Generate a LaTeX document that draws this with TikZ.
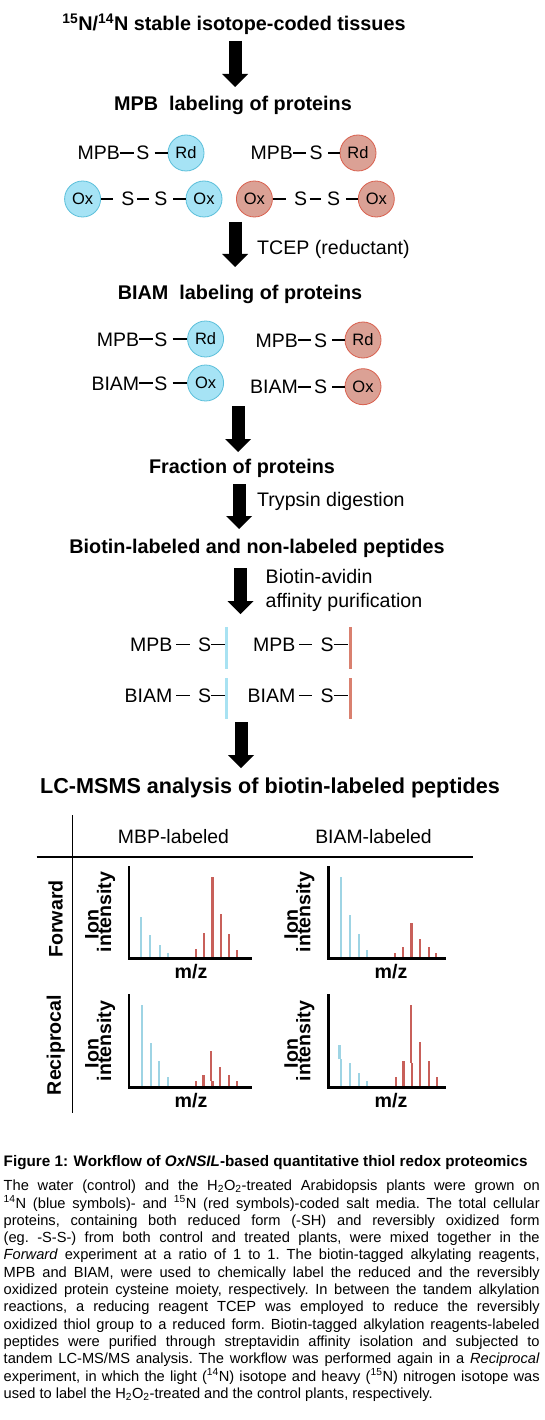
\documentclass[tikz,border=0pt]{standalone}
\usepackage{fontspec}
\setmainfont{Liberation Sans}
\usetikzlibrary{arrows.meta}
\definecolor{cbf}{HTML}{A6E3F5}
\definecolor{cbd}{HTML}{5BBFDA}
\definecolor{crf}{HTML}{DBA195}
\definecolor{crd}{HTML}{D9604E}
\definecolor{barb}{HTML}{9ED4E4}
\definecolor{barr}{HTML}{C8605A}
\definecolor{pepb}{HTML}{A8E2F2}
\definecolor{pepr}{HTML}{D9806F}
\begin{document}
\begin{tikzpicture}[x=1pt,y=-1pt,
  hd/.style={font=\fontsize{19.8}{22}\selectfont\bfseries, inner sep=0pt, anchor=base},
  lab/.style={font=\fontsize{19.6}{22}\selectfont, inner sep=0pt, anchor=base west},
  chem/.style={font=\fontsize{19.5}{22}\selectfont, inner sep=0pt, text height=14pt, text depth=0pt},
  bond/.style={line width=1.7pt},
  bc/.style={circle, minimum size=36pt, inner sep=0pt, fill=cbf, draw=cbd, line width=0.8pt, font=\fontsize{16.5}{18}\selectfont},
  rc/.style={bc, fill=crf, draw=crd},
  pbl/.style={rectangle, minimum width=3pt, minimum height=42pt, inner sep=0pt, fill=pepb},
  prl/.style={pbl, fill=pepr},
  blk/.style={line width=13pt, -{Triangle[width=26pt,length=13pt,line width=0pt]}},
  tline/.style={line width=1.1pt},
  reg/.style={font=\fontsize{19.4}{22}\selectfont, inner sep=0pt},
  bl/.style={font=\fontsize{19.6}{22}\selectfont\bfseries, inner sep=0pt},
  axis/.style={line width=2.7pt, line join=miter},
  bb/.style={line width=2.4pt, barb},
  br/.style={line width=2.4pt, barr},
  captxt/.style={font=\fontsize{14.65}{17.3}\selectfont\frenchspacing, inner sep=0pt, anchor=base west}
]
\useasboundingbox (0,0) rectangle (544,1420);
\fill[white] (0,0) rectangle (544,1420);

% ---- headings
\node[hd] (h1) at (234,31) {\textsuperscript{15}N/\textsuperscript{14}N stable isotope-coded tissues};
\node[hd] (h2) at (233,111) {MPB\ \ labeling of proteins};
\node[hd] (h3) at (240,299) {BIAM\ \ labeling of proteins};
\node[hd] (h4) at (242,473) {Fraction of proteins};
\node[hd] (h5) at (257,553) {Biotin-labeled and non-labeled peptides};
\node[hd, font=\fontsize{21.6}{24}\selectfont\bfseries] (h6) at (270,793) {LC-MSMS analysis of biotin-labeled peptides};

% ---- step labels
\node[lab] (l1) at (257,255) {TCEP (reductant)};
\node[lab] (l2) at (257,506) {Trypsin digestion};
\node[lab] (l3) at (265.5,583) {Biotin-avidin};
\node[lab] (l4) at (265.5,607) {affinity purification};

% ---- block arrows
\coordinate (a1s) at (235,41);   \coordinate (a1e) at (235,87);
\coordinate (a2s) at (235,222);  \coordinate (a2e) at (235,267);
\coordinate (a3s) at (238,406);  \coordinate (a3e) at (238,452);
\coordinate (a4s) at (239,484);  \coordinate (a4e) at (239,529);
\coordinate (a5s) at (240.5,568);\coordinate (a5e) at (240.5,614);
\coordinate (a6s) at (241,722);  \coordinate (a6e) at (241,768);
\draw[blk] (a1s) -- (a1e);
\draw[blk] (a2s) -- (a2e);
\draw[blk] (a3s) -- (a3e);
\draw[blk] (a4s) -- (a4e);
\draw[blk] (a5s) -- (a5e);
\draw[blk] (a6s) -- (a6e);

% ---- MPB labeling row 1
\node[chem, anchor=east] (m1b) at (120,153) {MPB};
\node[chem] (s1b) at (143,153) {S};
\node[bc] (r1b) at (186,153) {Rd};
\draw[bond, shorten >=2pt] (m1b) -- (s1b);
\draw[bond, shorten <=5pt] (s1b) -- (r1b);
\node[chem, anchor=east] (m1r) at (293,153) {MPB};
\node[chem] (s1r) at (316,153) {S};
\node[rc] (r1r) at (358,153) {Rd};
\draw[bond, shorten >=3pt] (m1r) -- (s1r);
\draw[bond, shorten <=5.5pt] (s1r) -- (r1r);
% row 2
\node[bc] (o1b) at (82.6,199) {Ox};
\node[chem] (s2b) at (128,199) {S};
\node[chem] (s3b) at (161,199) {S};
\node[bc] (o2b) at (204,199) {Ox};
\draw[bond, shorten >=8pt] (o1b) -- (s2b);
\draw[bond, shorten <=2.5pt, shorten >=5.5pt] (s2b) -- (s3b);
\draw[bond, shorten <=5.5pt] (s3b) -- (o2b);
\node[rc] (o1r) at (254.4,199) {Ox};
\node[chem] (s2r) at (300.5,199) {S};
\node[chem] (s3r) at (333.6,199) {S};
\node[rc] (o2r) at (376.3,199) {Ox};
\draw[bond, shorten >=8pt] (o1r) -- (s2r);
\draw[bond, shorten <=2.5pt, shorten >=5.5pt] (s2r) -- (s3r);
\draw[bond, shorten <=5.5pt] (s3r) -- (o2r);

% ---- BIAM labeling
\node[chem, anchor=east] (m4b) at (139.4,339) {MPB};
\node[chem] (s4b) at (161,339) {S};
\node[bc] (r4b) at (205.6,339) {Rd};
\draw[bond, shorten >=1pt] (m4b) -- (s4b);
\draw[bond, shorten <=5pt] (s4b) -- (r4b);
\node[chem, anchor=east] (m5b) at (139.4,383) {BIAM};
\node[chem] (s5b) at (161,383) {S};
\node[bc] (o5b) at (205.6,383) {Ox};
\draw[bond, shorten >=1pt] (m5b) -- (s5b);
\draw[bond, shorten <=5pt] (s5b) -- (o5b);
\node[chem, anchor=east] (m4r) at (298,340) {MPB};
\node[chem] (s4r) at (320.5,340) {S};
\node[rc] (r4r) at (363,340) {Rd};
\draw[bond, shorten >=2.5pt] (m4r) -- (s4r);
\draw[bond, shorten <=5pt] (s4r) -- (r4r);
\node[chem, anchor=east] (m5r) at (298,386.7) {BIAM};
\node[chem] (s5r) at (320.5,386.7) {S};
\node[rc] (o5r) at (363,386.7) {Ox};
\draw[bond, shorten >=2.5pt] (m5r) -- (s5r);
\draw[bond, shorten <=5pt] (s5r) -- (o5r);

% ---- peptides
\node[chem, anchor=east] (m6b) at (172.5,644.5) {MPB};
\node[chem] (s6b) at (204.5,644.5) {S};
\node[pbl] (p6b) at (226.5,648) {};
\draw[bond, shorten <=3.5pt, shorten >=8pt] (m6b) -- (s6b);
\draw[bond] (s6b.east) -- (s6b.east -| p6b.west);
\node[chem, anchor=east] (m6r) at (295.5,644.5) {MPB};
\node[chem] (s6r) at (327,644.5) {S};
\node[prl] (p6r) at (350,648) {};
\draw[bond, shorten <=3.5pt, shorten >=8pt] (m6r) -- (s6r);
\draw[bond] (s6r.east) -- (s6r.east -| p6r.west);
\node[chem, anchor=east] (m7b) at (172.5,695.5) {BIAM};
\node[chem] (s7b) at (204.5,695.5) {S};
\node[pbl, minimum height=41pt] (p7b) at (226.5,698.5) {};
\draw[bond, shorten <=3.5pt, shorten >=8pt] (m7b) -- (s7b);
\draw[bond] (s7b.east) -- (s7b.east -| p7b.west);
\node[chem, anchor=east] (m7r) at (295.5,695.5) {BIAM};
\node[chem] (s7r) at (327,695.5) {S};
\node[prl, minimum height=41pt] (p7r) at (350,698.5) {};
\draw[bond, shorten <=3.5pt, shorten >=8pt] (m7r) -- (s7r);
\draw[bond] (s7r.east) -- (s7r.east -| p7r.west);

% ---- table
\draw[tline] (72.5,815) -- (72.5,1113);
\draw[tline] (36.6,857) -- (473,857);
\node[reg, anchor=base] (c1) at (173.5,843) {MBP-labeled};
\node[reg, anchor=base] (c2) at (373.5,843) {BIAM-labeled};
\node[bl, rotate=90] (rw1) at (55.7,919) {Forward};
\node[bl, rotate=90] (rw2) at (55.7,1045) {Reciprocal};

% plot A
\draw[axis] (129,866) -- (129,958.3) -- (252,958.3);
\foreach \x/\t in {140.7/916.7,149.7/935,160/945,167.7/952.7}{\draw[bb] (\x,957) -- (\x,\t);}
\foreach \x/\t in {195.7/949,204/932.7,212.3/876.7,221/914,229/934,237/950}{\draw[br] (\x,957) -- (\x,\t);}
% plot B
\draw[axis] (328.3,866) -- (328.3,958.3) -- (445.7,958.3);
\foreach \x/\t in {340.7/876.7,350/915,358.7/934,366.7/950}{\draw[bb] (\x,957) -- (\x,\t);}
\foreach \x/\t in {394.7/952.7,403/946.7,411.3/922.7,420/939,428.7/946.7,436/952.7}{\draw[br] (\x,957) -- (\x,\t);}
% plot C
\draw[axis] (129,994) -- (129,1087.3) -- (251.7,1087.3);
\foreach \x/\t in {141.7/1005,150.7/1042.7,158.7/1060.7,167.7/1077.3}{\draw[bb] (\x,1086) -- (\x,\t);}
\foreach \x/\t in {195.7/1080.7,203.3/1075,219.7/1066.7,228.7/1075,236.7/1080.7}{\draw[br] (\x,1086) -- (\x,\t);}
\draw[br] (210.7,1080.7) -- (210.7,1051);
\draw[br] (212.3,1086) -- (212.3,1080.7);
% plot D
\draw[axis] (328.3,994) -- (328.3,1087.3) -- (445.7,1087.3);
\draw[bb] (339.3,1059.3) -- (339.3,1045);
\draw[bb] (340.7,1086) -- (340.7,1059.3);
\foreach \x/\t in {350/1062.7,358.7/1072.7,366.7/1080.7}{\draw[bb] (\x,1086) -- (\x,\t);}
\foreach \x/\t in {395.7/1077.3,403.3/1060.7,420/1041.7,428.7/1060.7,436.7/1077.3}{\draw[br] (\x,1086) -- (\x,\t);}
\draw[br] (410.7,1062.7) -- (410.7,1005);
\draw[br] (412,1086) -- (412,1062.7);

% axis labels
\node[bl, rotate=90] (ia1) at (92,924.5) {Ion};
\node[bl, rotate=90] (ia2) at (106,912) {intensity};
\node[bl, rotate=90] (ib1) at (291.3,924.5) {Ion};
\node[bl, rotate=90] (ib2) at (305.3,912) {intensity};
\node[bl, rotate=90] (ic1) at (92,1053.5) {Ion};
\node[bl, rotate=90] (ic2) at (106,1041) {intensity};
\node[bl, rotate=90] (id1) at (291.3,1053.5) {Ion};
\node[bl, rotate=90] (id2) at (305.3,1041) {intensity};
\node[bl, anchor=base] (mza) at (191,978) {m/z};
\node[bl, anchor=base] (mzb) at (391,978) {m/z};
\node[bl, anchor=base] (mzc) at (191,1107) {m/z};
\node[bl, anchor=base] (mzd) at (391,1107) {m/z};

% ---- caption
\node[captxt, font=\fontsize{15.25}{17.3}\selectfont\bfseries] (cap0) at (3.5,1166.7) {Figure 1: Workflow of \textit{OxNSIL}-based quantitative thiol redox proteomics};
\node[captxt] (cap1) at (3.5,1190.7) {\makebox[536pt][s]{The water (control) and the H\textsubscript{2}O\textsubscript{2}-treated Arabidopsis plants were grown on}};
\node[captxt] (cap2) at (3.5,1208.0) {\makebox[536pt][s]{\textsuperscript{14}N (blue symbols)- and \textsuperscript{15}N (red symbols)-coded salt media. The total cellular}};
\node[captxt] (cap3) at (3.5,1225.3) {\makebox[536pt][s]{proteins, containing both reduced form (-SH) and reversibly oxidized form}};
\node[captxt] (cap4) at (3.5,1242.6) {\makebox[536pt][s]{(eg.\ -S-S-) from both control and treated plants, were mixed together in the}};
\node[captxt] (cap5) at (3.5,1259.9) {\makebox[536pt][s]{\textit{Forward} experiment at a ratio of 1 to 1. The biotin-tagged alkylating reagents,}};
\node[captxt] (cap6) at (3.5,1277.2) {\makebox[536pt][s]{MPB and BIAM, were used to chemically label the reduced and the reversibly}};
\node[captxt] (cap7) at (3.5,1294.5) {\makebox[536pt][s]{oxidized protein cysteine moiety, respectively. In between the tandem alkylation}};
\node[captxt] (cap8) at (3.5,1311.8) {\makebox[536pt][s]{reactions, a reducing reagent TCEP was employed to reduce the reversibly}};
\node[captxt] (cap9) at (3.5,1329.1) {\makebox[536pt][s]{oxidized thiol group to a reduced form. Biotin-tagged alkylation reagents-labeled}};
\node[captxt] (cap10) at (3.5,1346.4) {\makebox[536pt][s]{peptides were purified through streptavidin affinity isolation and subjected to}};
\node[captxt] (cap11) at (3.5,1363.7) {\makebox[536pt][s]{tandem LC-MS/MS analysis. The workflow was performed again in a \textit{Reciprocal}}};
\node[captxt] (cap12) at (3.5,1381.0) {\makebox[536pt][s]{experiment, in which the light (\textsuperscript{14}N) isotope and heavy (\textsuperscript{15}N) nitrogen isotope was}};
\node[captxt] (cap13) at (3.5,1398.3) {used to label the H\textsubscript{2}O\textsubscript{2}-treated and the control plants, respectively.};
\end{tikzpicture}
\end{document}
